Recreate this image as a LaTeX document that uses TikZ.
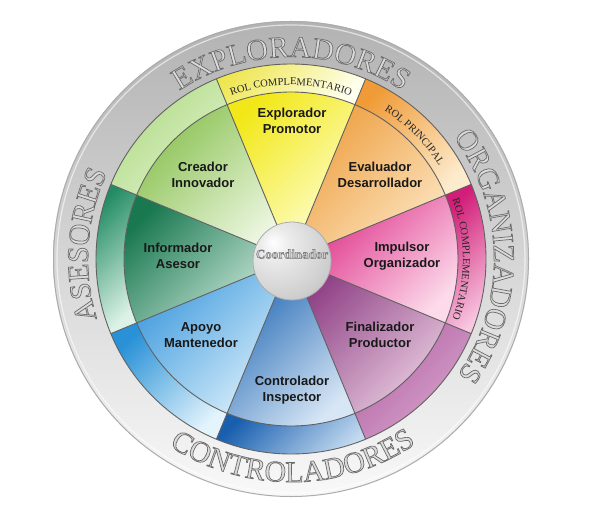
\documentclass[tikz,border=0pt]{standalone}
\usepackage{fontspec}
\setmainfont{Liberation Serif}
\setsansfont{Liberation Sans}
\usetikzlibrary{decorations.text}

\definecolor{yD}{RGB}{242,232,25}
\definecolor{yL}{RGB}{255,255,215}
\definecolor{ybD}{RGB}{238,230,80}
\definecolor{ybL}{RGB}{255,255,238}
\definecolor{oD}{RGB}{238,160,65}
\definecolor{oL}{RGB}{252,228,192}
\definecolor{obD}{RGB}{240,155,55}
\definecolor{obL}{RGB}{253,235,205}
\definecolor{pD}{RGB}{222,45,135}
\definecolor{pL}{RGB}{252,218,234}
\definecolor{pbD}{RGB}{210,30,120}
\definecolor{pbL}{RGB}{248,200,225}
\definecolor{uD}{RGB}{140,60,130}
\definecolor{uL}{RGB}{230,200,222}
\definecolor{ubD}{RGB}{180,100,165}
\definecolor{ubL}{RGB}{215,165,205}
\definecolor{cD}{RGB}{35,105,180}
\definecolor{cL}{RGB}{215,230,245}
\definecolor{cbD}{RGB}{25,95,175}
\definecolor{cbL}{RGB}{195,218,240}
\definecolor{aD}{RGB}{65,155,222}
\definecolor{aL}{RGB}{215,238,250}
\definecolor{abD}{RGB}{40,145,215}
\definecolor{abL}{RGB}{228,244,252}
\definecolor{iD}{RGB}{25,120,80}
\definecolor{iL}{RGB}{208,234,222}
\definecolor{ibD}{RGB}{35,140,100}
\definecolor{ibL}{RGB}{220,242,230}
\definecolor{gD}{RGB}{140,195,85}
\definecolor{gL}{RGB}{240,248,230}
\definecolor{gbD}{RGB}{175,218,130}
\definecolor{gbL}{RGB}{222,242,205}

\pgfdeclareradialshading{silverhub}{\pgfpoint{-12bp}{12bp}}{%
  color(0bp)=(white); color(10bp)=(white!92!black); color(30bp)=(white!82!black);
  color(55bp)=(white!68!black); color(62bp)=(white!60!black); color(100bp)=(white!60!black)}

\tikzset{
  segline/.style={draw=black!62, line width=0.9pt},
  label/.style={font=\sffamily\bfseries\fontsize{13}{15.5}\selectfont, align=center, text=black!90},
}
\newcommand\rolefont{\fontsize{10.5}{10.5}\selectfont\color{black!85}}
\newcommand\engrave{\special{pdf:literal direct 2 Tr 0.7 w 0.42 0.42 0.42 RG 0.86 0.86 0.86 rg}}
\newcommand\engravesmall{\special{pdf:literal direct 2 Tr 0.45 w 0.45 0.45 0.45 RG 0.80 0.80 0.80 rg}}
% engraved word along an arc: #1 text, #2 radius, #3 start, #4 end, #5 size
\newcommand\arcword[5]{%
  \path[decorate,decoration={text along path,text align=center,
    text={|\fontsize{#5}{#5}\selectfont\engrave|#1}}]
    ([shift={(#3:#2pt)}]c) arc[start angle=#3,end angle=#4,radius=#2pt];}

\begin{document}
\begin{tikzpicture}[x=1pt,y=1pt]
\useasboundingbox (0,0) rectangle (593,520);
\fill[white] (0,0) rectangle (593,520);
\coordinate (c) at (291,261);

% silver ring
\shade[top color=gray!60, bottom color=gray!5] (c) circle[radius=238pt];
\draw[gray!65, line width=1pt] (c) circle[radius=237.5pt];
\draw[white, opacity=0.6, line width=1.2pt] (c) circle[radius=234pt];

% segments
\foreach \a/\mD/\mL/\bD/\bL in {67.5/yD/yL/ybD/ybL, 22.5/oD/oL/obD/obL, -22.5/pD/pL/pbD/pbL, -67.5/uD/uL/ubD/ubL, -112.5/cD/cL/cbD/cbL, -157.5/aD/aL/abD/abL, 157.5/iD/iL/ibD/ibL, 112.5/gD/gL/gbD/gbL}{
  \pgfmathsetmacro\e{\a+45}
  \shade[top color=\mD, bottom color=\mL, shading angle=45]
    ([shift={(\a:167pt)}]c) arc[start angle=\a, end angle=\e, radius=167pt] -- (c) -- cycle;
  \shade[top color=\bD, bottom color=\bL, shading angle=45]
    ([shift={(\a:195pt)}]c) arc[start angle=\a, end angle=\e, radius=195pt]
    -- ([shift={(\e:167pt)}]c) arc[start angle=\e, end angle=\a, radius=167pt] -- cycle;
}
\foreach \a in {22.5,67.5,112.5,157.5,202.5,247.5,292.5,337.5}
  \draw[segline] (c) -- ([shift={(\a:195pt)}]c);
\draw[segline] (c) circle[radius=167pt];
\draw[segline] (c) circle[radius=195pt];

% hub
\coordinate (hub) at (292,259);
\shade[shading=silverhub] (hub) circle[radius=39pt];
\draw[gray!65, line width=0.8pt] (hub) circle[radius=39pt];

% role texts
\path[decorate,decoration={text along path,text align=center,text={|\rolefont|ROL COMPLEMENTARIO}}]
  ([shift={(125:174pt)}]c) arc[start angle=125,end angle=55,radius=174pt];
\path[decorate,decoration={text along path,text align=center,text={|\rolefont|ROL PRINCIPAL}}]
  ([shift={(80:175pt)}]c) arc[start angle=80,end angle=10,radius=175pt];
\path[decorate,decoration={text along path,text align=center,text={|\rolefont|ROL COMPLEMENTARIO}}]
  ([shift={(36:172pt)}]c) arc[start angle=36,end angle=-36,radius=172pt];

% big engraved words
\arcword{EXPLORADORES}{202}{150}{30}{30}
\arcword{ORGANIZADORES}{203}{56}{-54}{30}
\arcword{ASESORES}{203}{230}{122}{30}
\arcword{CONTROLADORES}{223}{210}{331}{30}

% labels
\node[label] (explorador) at (292,399) {Explorador\\Promotor};
\node[label] (creador) at (203,345) {Creador\\Innovador};
\node[label] (evaluador) at (380,345) {Evaluador\\Desarrollador};
\node[label] (informador) at (178,264) {Informador\\Asesor};
\node[label] (impulsor) at (402,264) {Impulsor\\Organizador};
\node[label] (apoyo) at (201,185) {Apoyo\\Mantenedor};
\node[label] (finalizador) at (380,185) {Finalizador\\Productor};
\node[label] (controlador) at (292,130) {Controlador\\Inspector};

\node[font=\bfseries\fontsize{13}{13}\selectfont] (coord) at (292,266) {\engravesmall Coordinador};
\end{tikzpicture}
\end{document}
